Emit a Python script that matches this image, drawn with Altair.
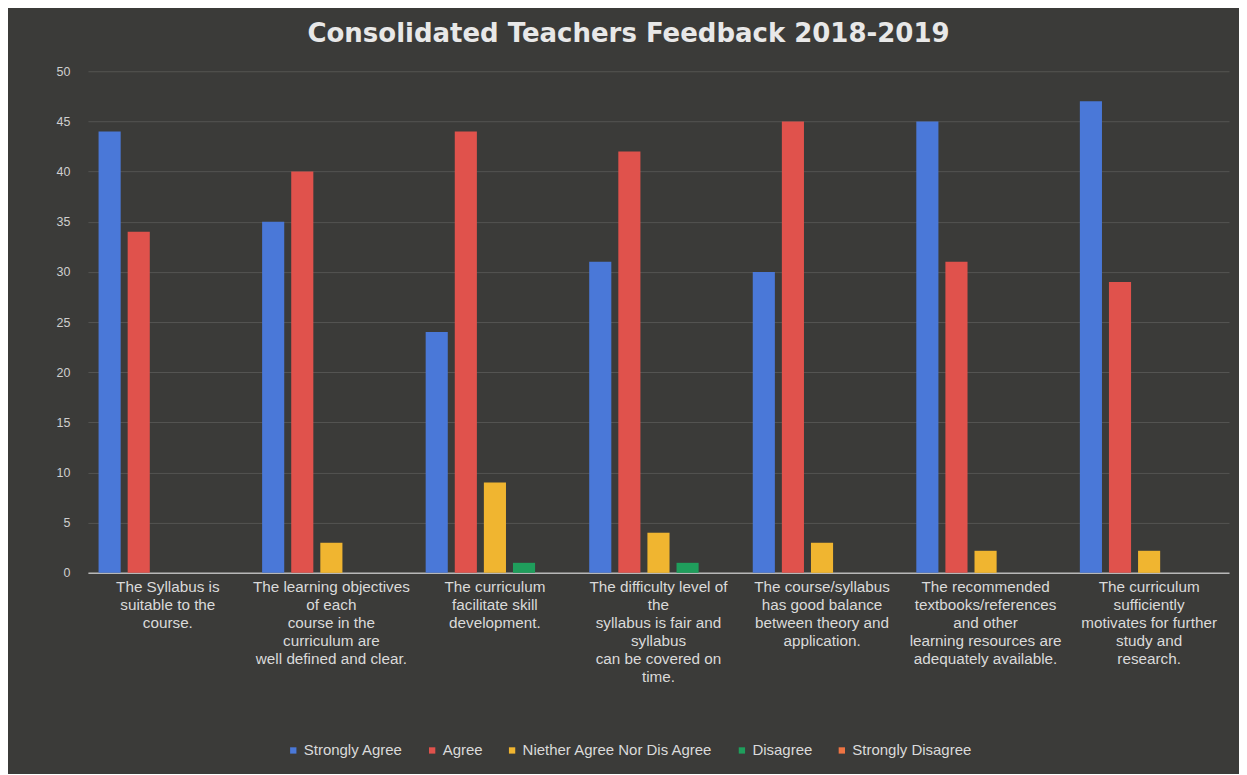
import altair as alt
import pandas as pd

questions = [
    "The Syllabus is|suitable to the|course.",
    "The learning objectives|of each|course in the|curriculum are|well defined and clear.",
    "The curriculum|facilitate skill|development.",
    "The difficulty level of|the|syllabus is fair and|syllabus|can be covered on|time.",
    "The course/syllabus|has good balance|between theory and|application.",
    "The recommended|textbooks/references|and other|learning resources are|adequately available.",
    "The curriculum|sufficiently|motivates for further|study and|research.",
]
series = ["Strongly Agree", "Agree", "Niether Agree Nor Dis Agree", "Disagree", "Strongly Disagree"]
strongly_agree = [44, 35, 24, 31, 30, 45, 47]
agree = [34, 40, 44, 42, 45, 31, 29]
neither = [0, 3, 9, 4, 3, 2.2, 2.2]
disagree = [0, 0, 1, 1, 0, 0, 0]
strongly_disagree = [0, 0, 0, 0, 0, 0, 0]
colors = ["#4a78d8", "#e0524c", "#f0b530", "#1f9e5c", "#ee7443"]

vals = [strongly_agree, agree, neither, disagree, strongly_disagree]
rows = []
for s, v in zip(series, vals):
    for q, x in zip(questions, v):
        rows.append({"q": q, "series": s, "value": x})
df = pd.DataFrame(rows)

bg = "#3b3b39"
chart = alt.Chart(df).mark_bar().encode(
    x=alt.X("q:N", sort=questions, title=None,
            scale=alt.Scale(paddingInner=0.153, paddingOuter=0.065),
            axis=alt.Axis(labelAngle=0, labelExpr="split(datum.label, '|')",
                          labelFont="Liberation Sans", labelFontSize=15.3,
                          labelColor="#dadada", labelLineHeight=18, labelPadding=7,
                          ticks=False, domainColor="#b8b8b8", domainWidth=1.5,
                          labelBaseline="top", labelLimit=220)),
    xOffset=alt.XOffset("series:N", sort=series,
                        scale=alt.Scale(paddingInner=0.24, paddingOuter=0)),
    y=alt.Y("value:Q", title=None,
            scale=alt.Scale(domain=[0, 50]),
            axis=alt.Axis(values=list(range(0, 51, 5)), ticks=False, domain=False,
                          labelFont="Liberation Sans", labelFontSize=12.5,
                          labelColor="#cfcfcf", labelPadding=18,
                          gridColor="#545452", gridWidth=1,
                          minExtent=40, maxExtent=40)),
    color=alt.Color("series:N", sort=series,
                    scale=alt.Scale(domain=series, range=colors),
                    legend=alt.Legend(title=None, orient="none", direction="horizontal",
                                      legendX=198, legendY=672,
                                      symbolType="square", symbolSize=40,
                                      symbolStrokeWidth=0,
                                      labelFont="Liberation Sans", labelFontSize=15,
                                      labelColor="#dadada", columnPadding=21,
                                      labelOffset=3, labelLimit=400)),
).properties(
    width=1142, height=502,
    background=bg,
    padding={"left": 40, "top": 13, "right": 10, "bottom": 15},
    title=alt.TitleParams("Consolidated Teachers Feedback 2018-2019",
                          font="DejaVu Sans", fontSize=26, fontWeight="bold",
                          color="#e8e8e8", anchor="middle", dx=-30, offset=18),
).configure_view(stroke=None)

chart.save("out.html", embed_options={"renderer": "svg", "actions": False})
